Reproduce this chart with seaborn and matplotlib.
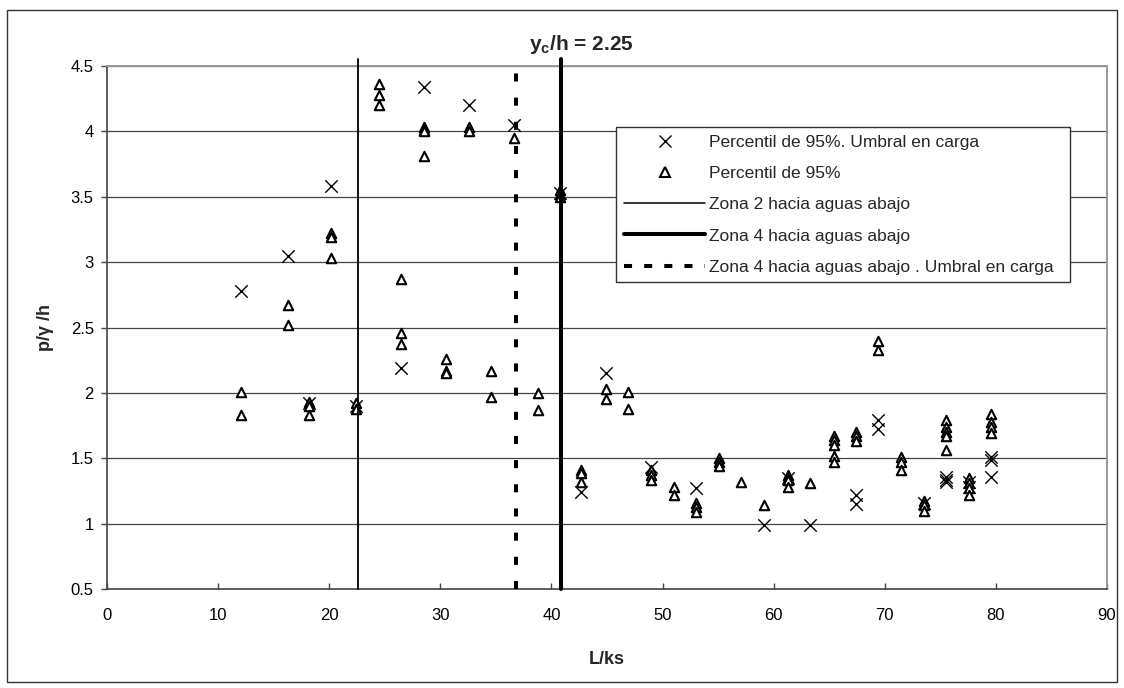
import matplotlib
matplotlib.use("Agg")
import matplotlib.pyplot as plt
from matplotlib.lines import Line2D
from matplotlib.patches import Rectangle
import numpy as np
import pandas as pd
import seaborn as sns

# Percentil de 95%. Umbral en carga (crosses)
x_umbral = [12.1, 16.3, 18.2, 20.2, 22.4, 26.5, 28.5, 32.6, 36.6, 40.8,
            42.7, 44.9, 49.0, 53.0, 59.1, 61.3, 63.3, 67.4, 67.4, 69.4,
            69.4, 73.5, 75.5, 75.5, 75.5, 77.6, 77.6, 79.6, 79.6, 79.6]
y_umbral = [2.78, 3.05, 1.92, 3.58, 1.90, 2.19, 4.34, 4.20, 4.05, 3.53,
            1.24, 2.15, 1.43, 1.27, 0.99, 1.35, 0.99, 1.22, 1.15, 1.79,
            1.72, 1.16, 1.36, 1.33, 1.32, 1.32, 1.28, 1.51, 1.49, 1.36]

# Percentil de 95% (triangles)
x_p95 = [12.1, 12.1, 16.3, 16.3, 18.2, 18.2, 18.2, 20.2, 20.2, 20.2,
         22.4, 22.4, 24.5, 24.5, 24.5, 26.5, 26.5, 26.5, 28.5, 28.5,
         28.5, 28.5, 30.5, 30.5, 30.5, 32.6, 32.6, 34.6, 34.6, 36.6,
         38.8, 38.8, 40.8, 40.8, 40.8, 42.7, 42.7, 42.7, 44.9, 44.9,
         46.9, 46.9, 49.0, 49.0, 49.0, 51.0, 51.0, 53.0, 53.0, 53.0,
         55.1, 55.1, 55.1, 57.1, 59.1, 61.3, 61.3, 61.3, 61.3, 63.3,
         65.4, 65.4, 65.4, 65.4, 65.4, 67.4, 67.4, 67.4, 69.4, 69.4,
         71.5, 71.5, 71.5, 73.5, 73.5, 73.5, 75.5, 75.5, 75.5, 75.5,
         75.5, 77.6, 77.6, 77.6, 77.6, 79.6, 79.6, 79.6, 79.6]
y_p95 = [2.01, 1.83, 2.67, 2.52, 1.93, 1.90, 1.83, 3.22, 3.19, 3.03,
         1.92, 1.88, 4.36, 4.28, 4.20, 2.87, 2.46, 2.37, 4.03, 4.01,
         4.00, 3.81, 2.26, 2.17, 2.15, 4.03, 4.00, 2.17, 1.97, 3.95,
         2.00, 1.87, 3.55, 3.52, 3.50, 1.41, 1.39, 1.32, 2.03, 1.95,
         2.01, 1.88, 1.41, 1.37, 1.33, 1.28, 1.22, 1.16, 1.13, 1.09,
         1.50, 1.47, 1.44, 1.32, 1.14, 1.37, 1.35, 1.33, 1.28, 1.31,
         1.67, 1.64, 1.60, 1.52, 1.47, 1.70, 1.67, 1.63, 2.40, 2.33,
         1.51, 1.47, 1.41, 1.17, 1.14, 1.10, 1.79, 1.74, 1.70, 1.67,
         1.56, 1.35, 1.31, 1.27, 1.22, 1.84, 1.78, 1.74, 1.69]

zona2_x = 22.56
zona4_x = 40.86
zona4_umbral_x = 36.8

sns.set_theme(style="white")
plt.rcParams["font.family"] = ["Liberation Sans", "DejaVu Sans"]
plt.rcParams["mathtext.fontset"] = "custom"
plt.rcParams["mathtext.bf"] = "Liberation Sans:bold"
plt.rcParams["mathtext.rm"] = "Liberation Sans"

fig = plt.figure(figsize=(11.24, 6.88), dpi=100)
fig.patch.set_facecolor("white")
fig.patches.append(Rectangle((7 / 1124, 1 - 682 / 688), 1110 / 1124, 672 / 688,
                             transform=fig.transFigure, fill=False,
                             edgecolor="#333333", linewidth=1.0))

ax = fig.add_axes([107 / 1124, 1 - 589 / 688, 1000 / 1124, 523 / 688])

df_u = pd.DataFrame({"L_ks": x_umbral, "p": y_umbral})
df_p = pd.DataFrame({"L_ks": x_p95, "p": y_p95})

sns.scatterplot(data=df_u, x="L_ks", y="p", marker="x", s=80, color="black",
                linewidth=1.0, ax=ax, zorder=3, legend=False)
sns.scatterplot(data=df_p, x="L_ks", y="p", marker="^", s=46, color="white",
                edgecolor="black", linewidth=1.5, ax=ax, zorder=4, legend=False)

ax.plot([zona2_x, zona2_x], [0.5, 4.55], color="black", lw=1.3, clip_on=False, zorder=5)
ax.plot([zona4_x, zona4_x], [0.5, 4.55], color="black", lw=2.9, clip_on=False, zorder=5)
ax.plot([zona4_umbral_x, zona4_umbral_x], [0.5, 4.5], color="black", lw=2.9,
        ls=(0, (2, 4)), zorder=5)

ax.set_xlim(0, 90)
ax.set_ylim(0.5, 4.5)
ax.set_xticks(np.arange(0, 91, 10))
ax.set_yticks(np.arange(0.5, 4.51, 0.5))
ax.set_yticklabels(["0.5", "1", "1.5", "2", "2.5", "3", "3.5", "4", "4.5"])
ax.yaxis.grid(True, color="#444444", lw=0.9)
ax.set_axisbelow(True)

for side in ["left", "bottom"]:
    ax.spines[side].set_color("#444444")
    ax.spines[side].set_linewidth(1.2)
for side in ["top", "right"]:
    ax.spines[side].set_color("#999999")
    ax.spines[side].set_linewidth(1.4)

ax.tick_params(axis="x", direction="in", length=4, width=1, color="#444444",
               labelsize=12, pad=14, labelcolor="black", bottom=True)
ax.tick_params(axis="y", direction="out", length=4.5, width=1, color="#444444",
               labelsize=12, pad=5, labelcolor="black", left=True)

ax.set_xlabel("L/ks", fontsize=13, fontweight="bold", labelpad=20)
ax.set_ylabel("p/γ /h", fontsize=13, fontweight="bold", labelpad=12)

fig.text(581 / 1124, 1 - 50 / 688, r"$\mathbf{y_c}$/h = 2.25", ha="center",
         va="baseline", fontsize=15, fontweight="bold")

handles = [
    Line2D([], [], ls="", marker="x", color="black", ms=9, mew=1.0),
    Line2D([], [], ls="", marker="^", mfc="white", mec="black", ms=6.8, mew=1.5),
    Line2D([], [], color="black", lw=1.1),
    Line2D([], [], color="black", lw=2.9),
    Line2D([], [], color="black", lw=2.9, ls=(0, (2, 3))),
]
labels = [
    "Percentil de 95%. Umbral en carga",
    "Percentil de 95%",
    "Zona 2 hacia aguas abajo",
    "Zona 4 hacia aguas abajo",
    "Zona 4 hacia aguas abajo . Umbral en carga",
]
leg = ax.legend(handles, labels, loc="upper left",
                bbox_to_anchor=(0.509, 0.581, 0.454, 0.302), mode="expand",
                borderaxespad=0, fontsize=12.5, frameon=True, fancybox=False,
                edgecolor="#333333", framealpha=1, handlelength=4.7,
                handletextpad=0.2, labelspacing=0.92, borderpad=0.45)
leg.get_frame().set_linewidth(1.0)
leg.set_zorder(6)

fig.savefig("out.png", dpi=100, facecolor="white")
